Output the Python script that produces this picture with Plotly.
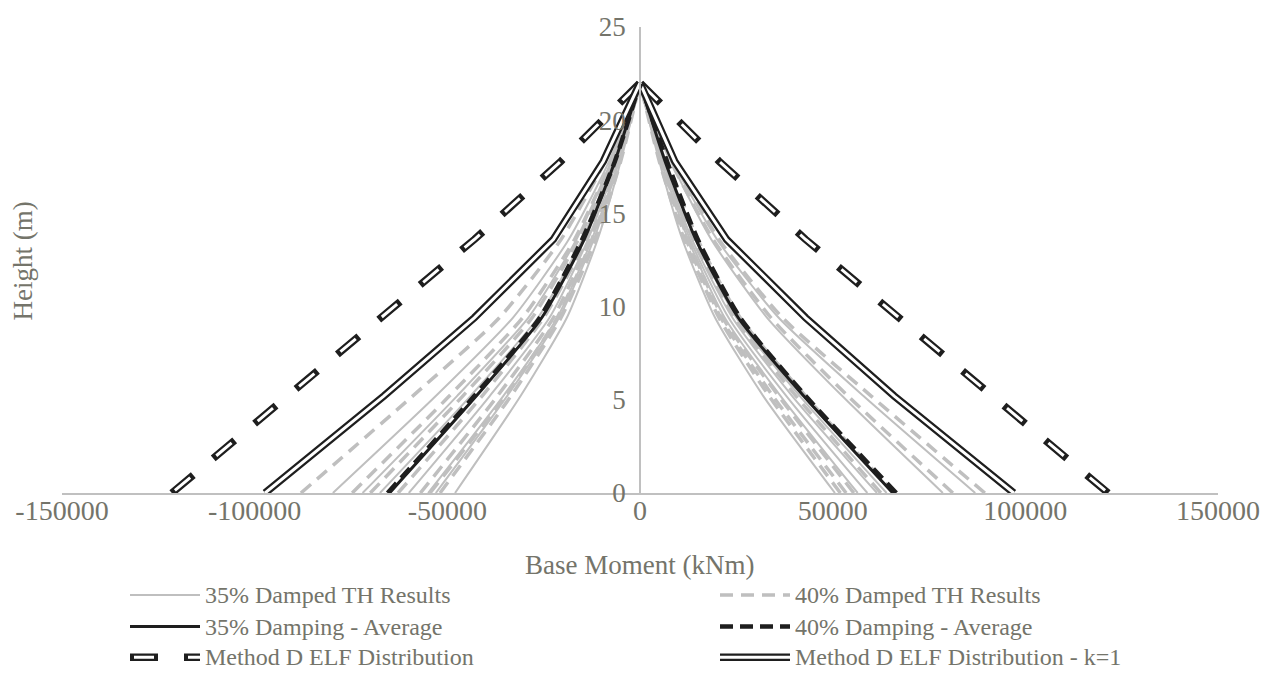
import plotly.graph_objects as go

# ---------------- data ----------------
heights = [0, 5.2, 9.4, 13.6, 17.8, 22]

# 35% damped time-history results (positive envelope / negative envelope)
th35_pos = [
    [50600, 32000, 19500, 11000, 5000, 0],
    [56500, 36500, 22000, 12500, 5500, 0],
    [61500, 39500, 24000, 13500, 6000, 0],
    [64000, 41500, 25000, 14500, 6500, 0],
    [78600, 52500, 33000, 18500, 8000, 0],
    [87000, 58000, 36000, 20000, 8500, 0],
    [59000, 38000, 23000, 13000, 6000, 0],
]
th35_neg = [
    [-48000, -31000, -19000, -11000, -5000, 0],
    [-55000, -35500, -21500, -12500, -5500, 0],
    [-60000, -39000, -23500, -13500, -6000, 0],
    [-67500, -44000, -26500, -15000, -7000, 0],
    [-79700, -53000, -33000, -18500, -8000, 0],
    [-53000, -34500, -21000, -12000, -5500, 0],
    [-72000, -47500, -29000, -16500, -7500, 0],
]
# 40% damped time-history results
th40_pos = [
    [53500, 34500, 21000, 12000, 5500, 0],
    [55500, 36000, 21500, 12500, 5500, 0],
    [62500, 40500, 24500, 14000, 6500, 0],
    [66000, 43000, 26000, 15000, 7000, 0],
    [81200, 54000, 34000, 19000, 8000, 0],
    [89500, 60000, 37000, 20500, 9000, 0],
    [52000, 33500, 20500, 11500, 5000, 0],
]
th40_neg = [
    [-88000, -59000, -36500, -20500, -9000, 0],
    [-74700, -49500, -30500, -17000, -7500, 0],
    [-62800, -41000, -25000, -14000, -6500, 0],
    [-54500, -35000, -21500, -12500, -5500, 0],
    [-51900, -33500, -20500, -11500, -5000, 0],
    [-70000, -46000, -28000, -16000, -7000, 0],
    [-57000, -37000, -22500, -13000, -6000, 0],
]
avg35_pos = [65600, 42500, 25500, 14500, 6500, 0]
avg35_neg = [-65000, -42500, -25500, -14500, -6500, 0]
avg40_pos = [66500, 43000, 26000, 15000, 7000, 0]
avg40_neg = [-65500, -43000, -26000, -15000, -6500, 0]
methodD_pos = [121500, 91500, 67000, 43000, 20500, 0]
methodD_neg = [-121500, -91500, -67000, -43000, -20500, 0]
methodDk1_pos = [97000, 66000, 43000, 22500, 9000, 0]
methodDk1_neg = [-97300, -66500, -43000, -22500, -9500, 0]

x_ticks = [-150000, -100000, -50000, 0, 50000, 100000, 150000]
y_ticks = [0, 5, 10, 15, 20, 25]

legend_names = [
    "35% Damped TH Results", "40% Damped TH Results",
    "35% Damping - Average", "40% Damping - Average",
    "Method D ELF Distribution", "Method D ELF Distribution - k=1",
]

# ---------------- styles ----------------
FONT = '"Liberation Serif", "Times New Roman", Times, "DejaVu Serif", serif'
TXT = "#74746a"
AXC = "#c0c0c0"
GRAY = "#bfbfbf"
BLK = "#1e1e1e"
GDASH = "13px,8px"
BDASH = "13px,7px"
DOUT = "28px,26px"
DIN = "0px,4px,20px,30px"

W, Hpx = 1272, 674
ML, MR, MT, MB = 62, 54, 22, 181
PW = W - ML - MR
PH = Hpx - MT - MB

fig = go.Figure()


def add(vals, color, width, dash="solid", smooth=False):
    fig.add_trace(go.Scatter(
        x=vals, y=heights, mode="lines", showlegend=False, hoverinfo="skip",
        line=dict(color=color, width=width, dash=dash,
                  shape="spline" if smooth else "linear", smoothing=0.6)))


for p, n in zip(th35_pos, th35_neg):
    add(p, GRAY, 2, smooth=True)
    add(n, GRAY, 2, smooth=True)
for p, n in zip(th40_pos, th40_neg):
    add(p, GRAY, 3.5, GDASH, smooth=True)
    add(n, GRAY, 3.5, GDASH, smooth=True)
for v in (avg35_pos, avg35_neg):
    add(v, BLK, 3, smooth=True)
for v in (avg40_pos, avg40_neg):
    add(v, BLK, 4.5, BDASH, smooth=True)
for v in (methodD_pos, methodD_neg):
    add(v, BLK, 7.5, DOUT)
    add(v, "white", 3, DIN)
for v in (methodDk1_pos, methodDk1_neg):
    add(v, BLK, 7.5)
    add(v, "white", 3)


# ---------------- manual legend ----------------
def px2x(px):
    return (px - ML) / PW


def py2y(py):
    return (Hpx - MB - py) / PH


shapes = []
annots = []
rows = [596, 628, 659]
cols = [(130, 200, 203), (720, 790, 793)]
styles = [
    [(GRAY, 2, "solid")], [(GRAY, 3.5, GDASH)],
    [(BLK, 3, "solid")], [(BLK, 4.5, BDASH)],
    [(BLK, 7.5, DOUT), ("white", 3, DIN)], [(BLK, 7.5, "solid"), ("white", 3, "solid")],
]
for i, name in enumerate(legend_names):
    r, c = i // 2, i % 2
    x0, x1, xt = cols[c]
    yy = rows[r]
    for col, wd, ds in styles[i]:
        shapes.append(dict(type="line", xref="paper", yref="paper",
                           x0=px2x(x0), x1=px2x(x1), y0=py2y(yy), y1=py2y(yy),
                           line=dict(color=col, width=wd, dash=ds)))
    annots.append(dict(text=name, xref="paper", yref="paper", x=px2x(xt), y=py2y(yy),
                       xanchor="left", yanchor="middle", showarrow=False,
                       font=dict(family=FONT, size=24, color=TXT)))

annots.append(dict(text="Base Moment (kNm)", xref="paper", yref="paper",
                   x=px2x(639), y=py2y(566), xanchor="center", yanchor="middle",
                   showarrow=False, font=dict(family=FONT, size=27, color=TXT)))
annots.append(dict(text="Height (m)", xref="paper", yref="paper",
                   x=px2x(23), y=py2y(258), xanchor="center", yanchor="middle",
                   textangle=-90, showarrow=False,
                   font=dict(family=FONT, size=27, color=TXT)))

fig.update_layout(
    width=W, height=Hpx,
    margin=dict(l=ML, r=MR, t=MT, b=MB),
    paper_bgcolor="white", plot_bgcolor="white",
    showlegend=False,
    shapes=shapes, annotations=annots,
    font=dict(family=FONT, color=TXT),
    xaxis=dict(range=[-150000, 150000], tickvals=x_ticks,
               ticktext=[str(v) for v in x_ticks],
               showgrid=False, zeroline=False, showline=True, linecolor=AXC,
               linewidth=1.5, ticks="", ticklabelstandoff=-8,
               tickfont=dict(family=FONT, size=28, color=TXT)),
    yaxis=dict(range=[0, 25], tickvals=y_ticks, showgrid=False, zeroline=False,
               showline=True, linecolor=AXC, linewidth=1.5, ticks="",
               anchor="free", position=0.5, ticklabelstandoff=8,
               tickfont=dict(family=FONT, size=27, color=TXT)),
)

fig.write_html("out.html", config={"displayModeBar": False},
               post_script="document.body.style.margin='0px';document.body.style.padding='0px';")
